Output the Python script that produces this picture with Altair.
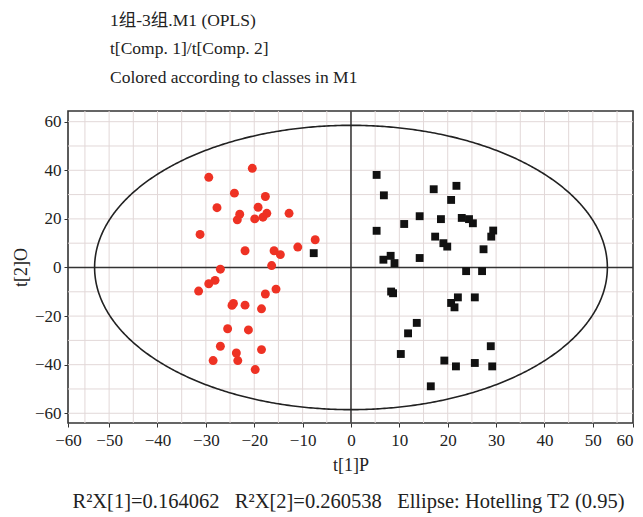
import altair as alt
import pandas as pd
import numpy as np

# ---- data ----
red_x = [-20.4, -29.4, -24.1, -17.7, -27.7, -19.2, -23.0, -23.5, -19.9, -18.2,
         -17.4, -12.8, -31.2, -7.4, -11.0, -21.9, -15.9, -14.6, -16.4, -27.0,
         -28.1, -29.4, -31.5, -15.5, -17.7, -24.3, -24.6, -21.9, -18.5, -25.5,
         -21.2, -27.0, -18.5, -23.7, -23.4, -28.5, -19.8]
red_y = [40.8, 37.1, 30.6, 29.2, 24.6, 24.8, 21.9, 19.6, 20.0, 20.7,
         22.3, 22.3, 13.6, 11.4, 8.4, 6.9, 6.9, 5.3, 0.8, -0.7,
         -5.3, -6.7, -9.7, -8.9, -10.9, -14.8, -15.6, -15.5, -17.0, -25.2,
         -25.7, -32.4, -33.8, -35.2, -38.3, -38.3, -42.0]

black_x = [5.3, 6.8, 17.1, 21.8, 20.7, 14.2, 11.0, 18.6, 22.9, 24.4,
           25.2, 5.3, 29.4, 29.0, 17.4, 19.1, 19.9, 27.4, 6.7, 8.2,
           9.0, 14.2, 23.8, 27.1, 8.3, 8.7, 20.7, 22.1, 21.4, 25.6,
           13.6, 11.8, 10.3, 28.9, 19.3, 21.7, 25.6, 29.2, 16.5, -7.7]
black_y = [38.1, 29.7, 32.2, 33.6, 27.8, 21.1, 17.9, 19.9, 20.4, 19.9,
           18.2, 15.1, 15.2, 12.7, 12.7, 10.0, 8.6, 7.5, 3.2, 4.8,
           1.8, 3.9, -1.5, -1.5, -9.9, -10.6, -14.6, -12.3, -16.4, -12.3,
           -22.8, -27.1, -35.6, -32.4, -38.3, -40.7, -39.3, -40.7, -48.9, 5.9]

classes = ["1组", "3组"]

# Hotelling T2 (0.95) ellipse semi-axes
ELLIPSE_A = 53.0
ELLIPSE_B = 58.5

grid_x = list(range(-55, 60, 5))
grid_y = list(range(-60, 70, 10))
x_tick_values = [-58.5, -50, -40, -30, -20, -10, 0, 10, 20, 30, 40, 50, 58.3]
y_tick_values = [-60, -40, -20, 0, 20, 40, 60]
X_DOMAIN = [-58.5, 58.3]
Y_DOMAIN = [-64.0, 64.4]

title_lines = ["1组-3组.M1 (OPLS)", "t[Comp. 1]/t[Comp. 2]", "Colored according to classes in M1"]
x_title = "t[1]P"
y_title = "t[2]O"
caption = "R²X[1]=0.164062\u00a0\u00a0 R²X[2]=0.260538\u00a0\u00a0 Ellipse: Hotelling T2 (0.95)"

FONT = "Liberation Serif, Noto Sans CJK SC"
TXT = "#222222"
W, H = 565, 312

pts = pd.DataFrame({
    "x": red_x + black_x,
    "y": red_y + black_y,
    "cls": [classes[0]] * len(red_x) + [classes[1]] * len(black_x),
})
t = np.linspace(0, 2 * np.pi, 721)
ell = pd.DataFrame({"x": ELLIPSE_A * np.cos(t), "y": ELLIPSE_B * np.sin(t), "i": np.arange(len(t))})

xs = alt.Scale(domain=X_DOMAIN, nice=False, zero=False)
ys = alt.Scale(domain=Y_DOMAIN, nice=False, zero=False)

x_axis = alt.Axis(
    values=x_tick_values, grid=False, title=x_title,
    labelExpr="datum.value < -55 ? '−60' : (datum.value > 55 ? '60' : datum.label)",
    labelFlush=False,
    labelAlign={"condition": {"test": "datum.value > 55", "value": "right"}, "value": "center"},
    labelFont=FONT, labelFontSize=17, labelColor=TXT, labelPadding=5,
    tickSize=4, tickColor="#333333", domain=False,
    titleFont=FONT, titleFontSize=18, titleFontWeight="normal", titleColor=TXT,
    titlePadding=8,
)
y_axis = alt.Axis(
    values=y_tick_values, grid=False, title=y_title,
    labelFont=FONT, labelFontSize=17, labelColor=TXT, labelPadding=3,
    tickSize=4, tickColor="#333333", domain=False,
    titleFont=FONT, titleFontSize=18, titleFontWeight="normal", titleColor=TXT,
    titlePadding=4,
)

X = lambda f: alt.X(f, scale=xs, axis=x_axis)
Y = lambda f: alt.Y(f, scale=ys, axis=y_axis)

gx = alt.Chart(pd.DataFrame({"v": grid_x})).mark_rule(color="#e2d8d8", strokeWidth=1).encode(x=X("v:Q"))
gy = alt.Chart(pd.DataFrame({"v": grid_y})).mark_rule(color="#e2d8d8", strokeWidth=1).encode(y=Y("v:Q"))
zx = alt.Chart(pd.DataFrame({"v": [0]})).mark_rule(color="#333333", strokeWidth=1.5).encode(x=X("v:Q"))
zy = alt.Chart(pd.DataFrame({"v": [0]})).mark_rule(color="#333333", strokeWidth=1.5).encode(y=Y("v:Q"))
ellipse = alt.Chart(ell).mark_line(color="#222222", strokeWidth=1.6).encode(
    x=X("x:Q"), y=Y("y:Q"), order="i:Q",
)
points = alt.Chart(pts).mark_point(filled=True, opacity=1).encode(
    x=X("x:Q"), y=Y("y:Q"),
    color=alt.Color("cls:N", scale=alt.Scale(domain=classes, range=["#ee3224", "#111111"]), legend=None),
    shape=alt.Shape("cls:N", scale=alt.Scale(domain=classes, range=["circle", "square"]), legend=None),
    size=alt.Size("cls:N", scale=alt.Scale(domain=classes, range=[80, 62]), legend=None),
)
cap = alt.Chart(pd.DataFrame({"t": [caption]})).mark_text(
    font=FONT, fontSize=20.5, color=TXT, align="center", baseline="middle", clip=False,
).encode(x=alt.value(W / 2 - 2), y=alt.value(H + 79), text="t:N")

chart = alt.layer(gx, gy, zx, zy, ellipse, points, cap).properties(
    width=W, height=H,
    autosize=alt.AutoSizeParams(type="none"),
    padding={"left": 60, "top": 103, "right": 2, "bottom": 94},
    background="white",
    title=alt.TitleParams(
        text=title_lines, anchor="start", frame="group", dx=42, offset=24,
        font=FONT, fontSize=17.5, fontWeight="normal", color=TXT, lineHeight=28.5,
    ),
).configure_view(stroke="#333333", strokeWidth=1.6)

chart.save("out.html", embed_options={"renderer": "svg", "actions": False})
